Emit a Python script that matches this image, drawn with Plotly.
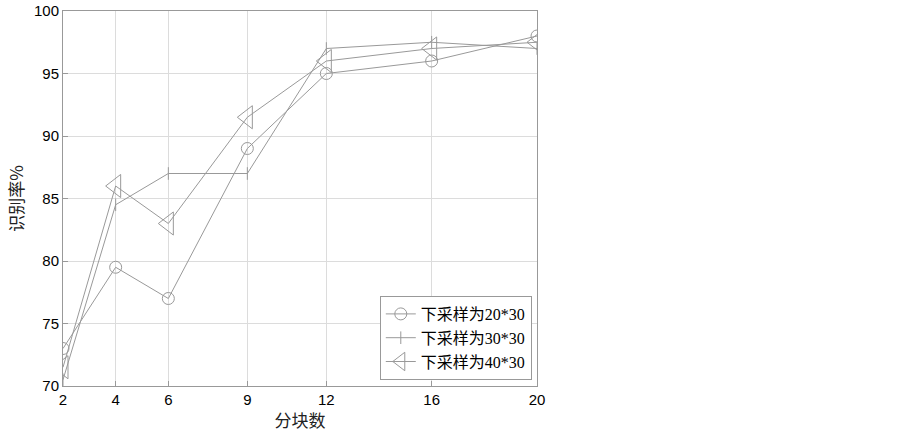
import plotly.graph_objects as go

# 分块数 and 识别率 for each down-sampling size
blocks = [2, 4, 6, 9, 12, 16, 20]
rate_20x30 = [73, 79.5, 77, 89, 95, 96, 98]
rate_30x30 = [70.5, 84.5, 87, 87, 97, 97.5, 97]
rate_40x30 = [71.5, 86, 83, 91.5, 96, 97, 97.5]
names = ["下采样为20*30", "下采样为30*30", "下采样为40*30"]

line_color = "#999999"
grid_color = "#dcdcdc"

fig = go.Figure()
fig.add_trace(go.Scatter(
    x=blocks, y=rate_20x30, name=names[0], mode="lines+markers",
    line=dict(color=line_color, width=1),
    marker=dict(symbol="circle-open", size=12, color=line_color, line=dict(width=1)),
))
fig.add_trace(go.Scatter(
    x=blocks, y=rate_30x30, name=names[1], mode="lines+markers",
    line=dict(color=line_color, width=1),
    marker=dict(symbol="line-ns-open", size=9, color=line_color, line=dict(width=1)),
))
fig.add_trace(go.Scatter(
    x=blocks, y=rate_40x30, name=names[2], mode="lines+markers",
    line=dict(color=line_color, width=1),
    marker=dict(symbol="triangle-left-open", size=20, color=line_color, line=dict(width=1)),
))

axis_common = dict(
    showgrid=True, gridcolor=grid_color, gridwidth=1,
    showline=True, linecolor="#999999", linewidth=1, mirror=True,
    ticks="inside", ticklen=5, tickcolor="#999999",
    zeroline=False, automargin=False,
    tickfont=dict(family="Liberation Sans, Arial", size=15, color="black"),
)

fig.update_xaxes(
    range=[2, 20], tickvals=blocks, ticktext=[str(b) for b in blocks],
    title=dict(text="分块数", font=dict(family="Noto Sans CJK SC", size=17, color="#222"), standoff=2),
    **axis_common,
)
fig.update_yaxes(
    range=[70, 100], dtick=5,
    title=dict(text="识别率%", font=dict(family="Noto Sans CJK SC", size=17, color="#222"), standoff=6),
    **axis_common,
)

fig.update_layout(
    width=903, height=432,
    margin=dict(l=63, r=366, t=11, b=46),
    plot_bgcolor="white", paper_bgcolor="white",
    legend=dict(
        x=0.989, y=0.016, xanchor="right", yanchor="bottom",
        bgcolor="white", bordercolor="#999999", borderwidth=1,
        font=dict(family="Liberation Serif, Noto Sans CJK SC", size=16, color="black"),
        tracegroupgap=0, itemsizing="trace",
    ),
)

# drop the default 8px body margin so the figure fills the window exactly
fig.write_html(
    "out.html",
    config={"displayModeBar": False},
    post_script="document.body.style.margin='0';",
)
